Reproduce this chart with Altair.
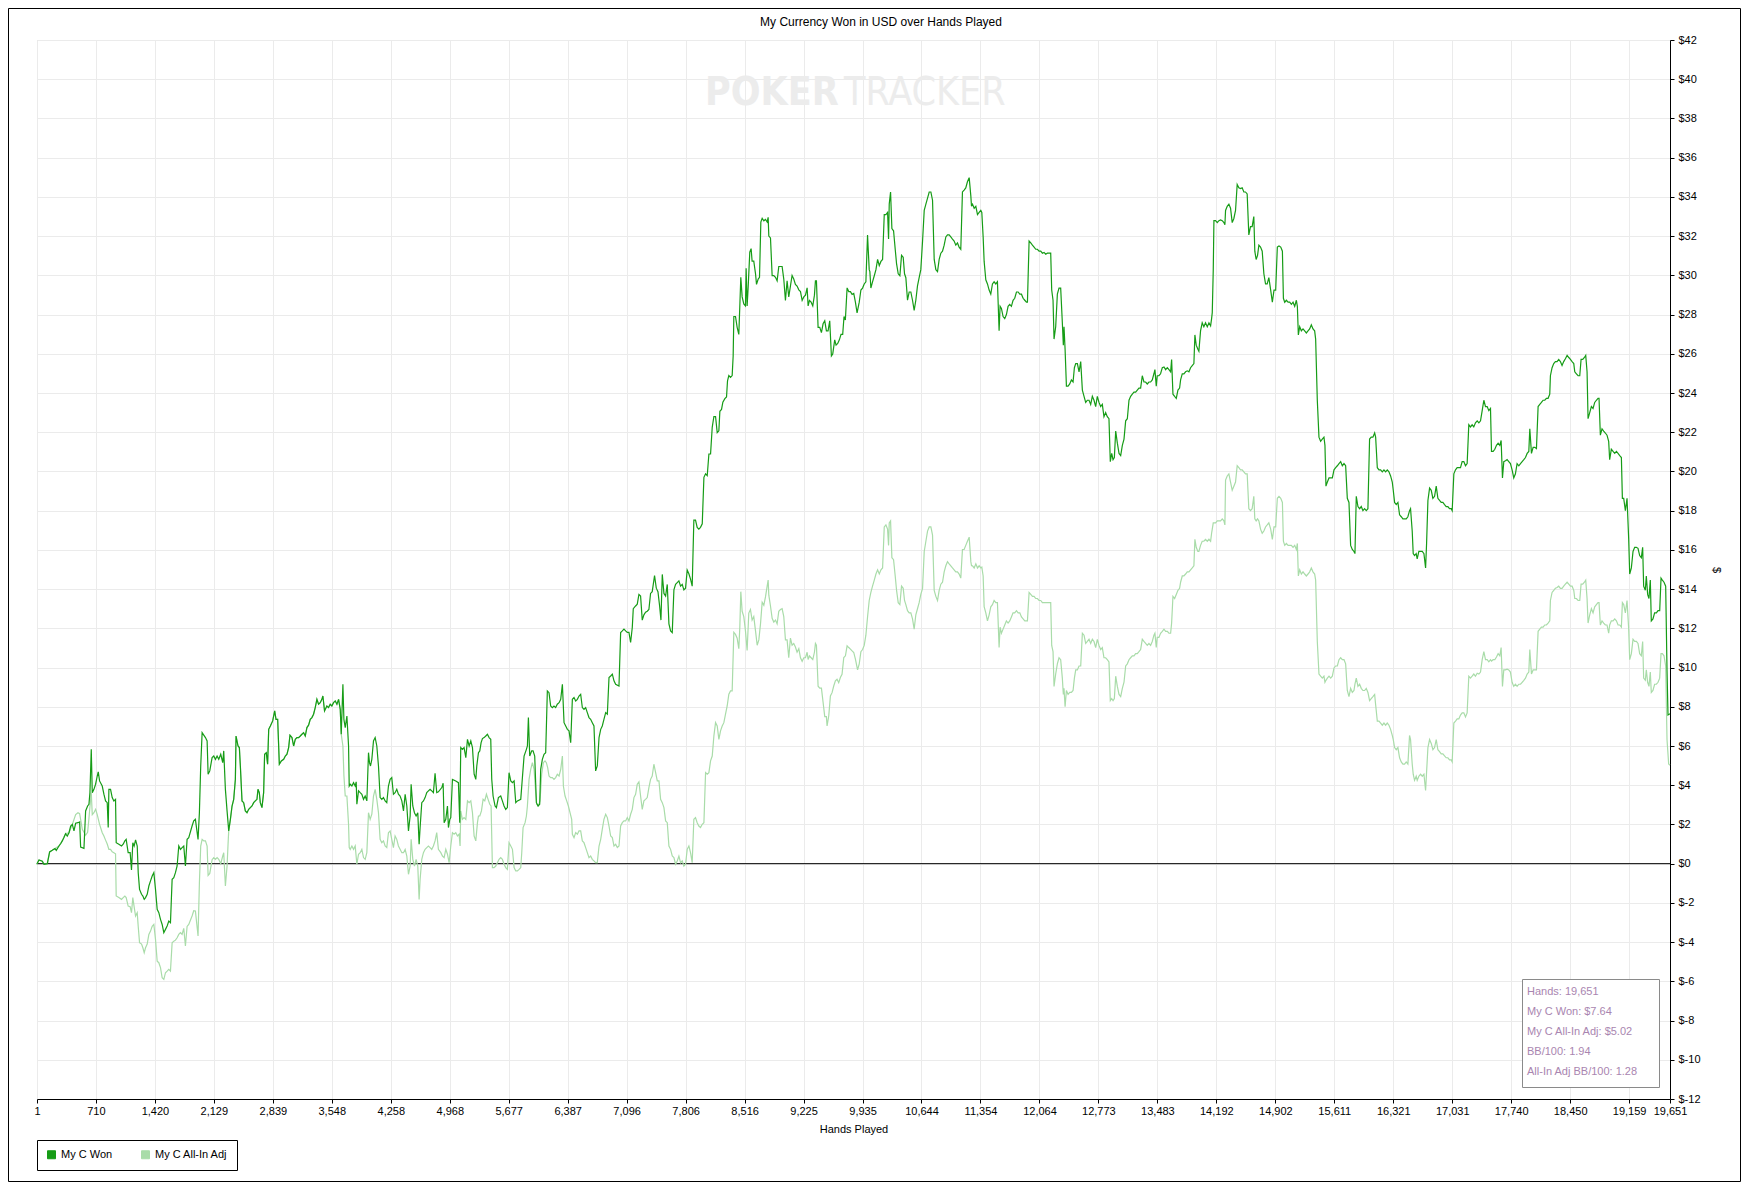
import altair as alt
import pandas as pd

# ---------------- data ----------------
series_names = ["My C Won", "My C All-In Adj"]
series_colors = ["#169c16", "#a9dca9"]

title_text = "My Currency Won in USD over Hands Played"

x_tick_values = [1, 710, 1420, 2129, 2839, 3548, 4258, 4968, 5677, 6387, 7096, 7806,
                 8516, 9225, 9935, 10644, 11354, 12064, 12773, 13483, 14192, 14902,
                 15611, 16321, 17031, 17740, 18450, 19159, 19651]
y_tick_values = [-12, -10, -8, -6, -4, -2, 0, 2, 4, 6, 8, 10, 12, 14, 16, 18, 20, 22,
                 24, 26, 28, 30, 32, 34, 36, 38, 40, 42]

info_lines = ["Hands: 19,651", "My C Won: $7.64", "My C All-In Adj: $5.02",
              "BB/100: 1.94", "All-In Adj BB/100: 1.28"]

# (hand, dollars) for "My C Won"
dark_points = [
(1,0),(25,0.19),(65,0.12),(85,-0.03),(125,0),(153,0.6),(185,0.68),(217,0.77),(233,0.68),(265,0.9),
(289,1.04),(305,1.16),(325,1.33),(345,1.53),(365,1.41),(386,1.58),(406,1.92),(426,2.0),(446,1.67),
(466,2.06),(494,2.09),(514,2.13),(526,0.85),(566,0.78),(586,2.69),(610,2.94),(626,3.03),(638,3.62),
(654,5.83),(666,3.62),(686,3.79),(706,4.05),(726,4.47),(738,4.68),(754,4.22),(786,3.96),(806,3.54),
(826,3.2),(846,3.11),(858,1.84),(866,3.79),(886,3.79),(906,3.37),(926,3.2),(946,3.28),(954,1.07),
(986,0.99),(1018,0.9),(1038,0.99),(1058,1.16),(1074,1.24),(1098,0.56),(1122,0.56),(1138,-0.32),
(1154,1.07),(1170,0.9),(1187,1.21),(1207,0.9),(1219,-0.46),(1235,-1.31),(1259,-1.56),(1275,-1.65),
(1291,-1.82),(1307,-1.73),(1327,-1.56),(1347,-1.14),(1367,-0.88),(1387,-0.63),(1407,-0.46),
(1427,-1.31),(1447,-2.33),(1467,-2.5),(1487,-2.84),(1507,-3.1),(1527,-3.52),(1547,-3.35),
(1567,-3.18),(1587,-2.93),(1607,-3.01),(1627,-0.8),(1647,-0.71),(1667,-0.46),(1687,-0.12),
(1707,0.9),(1727,0.73),(1747,0.82),(1767,0.9),(1787,-0.12),(1807,1.24),(1827,1.33),(1867,1.92),
(1887,2.18),(1907,2.26),(1939,1.24),(1955,2.6),(1971,4.98),(1988,6.68),(2028,6.43),(2048,6.26),
(2060,4.56),(2080,4.73),(2108,5.41),(2128,5.49),(2148,5.32),(2168,5.49),(2188,5.32),(2212,5.58),
(2236,5.15),(2248,5.75),(2268,3.79),(2288,2.69),(2308,1.67),(2328,2.26),(2348,2.94),(2368,3.28),
(2388,4.3),(2396,6.51),(2420,6.0),(2436,5.92),(2448,4.98),(2468,3.2),(2488,3.11),(2508,2.69),
(2528,2.6),(2548,2.77),(2568,2.86),(2588,2.94),(2608,3.11),(2628,3.2),(2648,3.28),(2660,3.79),
(2676,3.62),(2688,3.11),(2708,2.86),(2728,3.62),(2740,5.58),(2760,5.66),(2776,5.07),(2789,6.85),
(2809,7.02),(2837,7.28),(2861,7.79),(2877,7.36),(2897,7.36),(2917,5.07),(2941,5.24),(2969,5.32),
(2989,5.49),(3009,5.58),(3029,5.92),(3045,6.55),(3069,6.43),(3089,6.0),(3109,6.34),(3129,6.43),
(3149,6.43),(3169,6.51),(3189,6.6),(3209,6.68),(3229,6.51),(3249,6.94),(3269,7.06),(3289,7.36),
(3309,7.45),(3329,7.62),(3349,7.96),(3369,8.38),(3389,8.13),(3409,8.21),(3429,8.38),(3441,8.55),
(3461,7.79),(3489,8.04),(3509,7.96),(3529,8.13),(3549,8.04),(3569,8.21),(3590,8.3),(3610,8.13),
(3630,8.38),(3650,7.87),(3662,6.6),(3682,9.15),(3694,7.36),(3710,6.94),(3730,7.53),(3750,6.0),
(3758,3.96),(3770,4.05),(3790,3.96),(3810,4.13),(3830,3.96),(3842,4.17),(3850,3.03),(3870,3.71),
(3890,3.62),(3910,3.54),(3930,3.28),(3950,3.45),(3970,3.2),(3990,5.66),(4002,5.15),(4014,4.98),
(4030,5.32),(4050,6.26),(4070,6.43),(4090,6.0),(4110,4.98),(4130,3.37),(4150,3.28),(4170,3.37),
(4190,3.2),(4210,3.11),(4230,3.96),(4250,4.3),(4270,4.39),(4290,3.54),(4310,3.62),(4330,3.79),
(4350,3.54),(4370,3.45),(4391,3.2),(4411,2.69),(4431,3.54),(4451,2.94),(4471,1.67),(4491,2.43),
(4503,4.05),(4523,2.94),(4543,2.6),(4563,2.43),(4583,2.6),(4599,0.99),(4611,1.84),(4631,3.11),
(4651,3.2),(4671,3.37),(4691,3.62),(4711,3.71),(4731,3.79),(4751,3.71),(4771,3.62),(4791,4.61),
(4811,3.62),(4831,3.66),(4872,3.88),(4888,4.1),(4900,2.09),(4920,2.26),(4940,2.94),(4952,1.84),
(4968,2.26),(4980,2.35),(5000,4.3),(5040,4.22),(5072,4.13),(5088,2.09),(5100,5.92),(5120,5.83),
(5140,5.92),(5161,5.41),(5181,6.34),(5201,6.0),(5221,6.26),(5241,5.92),(5261,4.56),(5281,4.3),
(5293,4.98),(5313,5.66),(5329,5.75),(5345,6.17),(5361,6.38),(5381,6.43),(5401,6.51),(5421,6.6),
(5441,6.43),(5461,6.34),(5473,4.3),(5489,3.45),(5513,2.94),(5529,2.86),(5553,3.37),(5581,3.45),
(5601,3.2),(5621,2.94),(5641,2.77),(5661,2.86),(5681,4.64),(5702,4.22),(5722,4.13),(5742,4.22),
(5762,3.11),(5782,3.2),(5822,3.28),(5842,4.39),(5862,5.49),(5890,5.83),(5902,6.0),(5914,7.45),
(5930,5.49),(5954,5.75),(5970,5.75),(5990,5.49),(6010,3.11),(6030,2.94),(6050,3.03),(6062,4.81),
(6082,5.32),(6102,5.58),(6122,5.66),(6142,8.81),(6162,8.72),(6182,8.04),(6202,7.96),(6222,8.04),
(6242,7.96),(6262,8.13),(6283,8.21),(6303,8.38),(6323,9.15),(6343,7.19),(6363,7.02),(6383,6.85),
(6403,6.77),(6423,6.17),(6443,8.38),(6463,8.47),(6483,8.3),(6503,8.38),(6523,8.55),(6543,8.64),
(6563,7.96),(6583,7.87),(6603,7.96),(6623,7.7),(6643,7.45),(6663,7.36),(6683,7.19),(6703,7.02),
(6723,4.73),(6743,4.98),(6764,6.43),(6784,6.85),(6803,7.02),(6823,7.36),(6844,7.7),(6864,7.62),
(6884,9.49),(6904,9.57),(6924,9.66),(6944,9.32),(6964,9.15),(7004,9.06),(7024,11.79),(7044,11.87),
(7064,11.96),(7084,11.87),(7104,11.79),(7124,11.79),(7144,11.28),(7164,12.04),(7176,13.0),
(7204,13.14),(7224,13.23),(7244,13.73),(7264,13.65),(7284,12.42),(7304,12.69),(7324,12.82),
(7344,12.87),(7364,12.96),(7384,13.78),(7404,13.87),(7432,14.69),(7453,14.05),(7473,13.87),
(7493,13.14),(7509,12.42),(7525,14.75),(7545,13.78),(7565,13.65),(7585,14.24),(7605,12.23),
(7625,11.87),(7645,11.78),(7665,13.96),(7685,14.24),(7705,14.33),(7725,14.42),(7745,14.15),
(7765,14.24),(7785,13.96),(7805,14.05),(7825,14.97),(7845,14.78),(7865,14.51),(7885,14.15),
(7905,17.52),(7925,17.52),(7945,17.15),(7965,17.06),(7985,17.15),(8006,17.33),(8026,19.7),
(8046,19.88),(8066,19.79),(8086,20.89),(8106,20.89),(8126,22.25),(8146,22.8),(8166,22.8),
(8186,21.98),(8206,22.07),(8218,23.07),(8238,23.16),(8254,23.53),(8278,23.71),(8298,23.8),
(8310,24.62),(8326,24.89),(8346,24.8),(8366,24.89),(8378,25.89),(8386,27.9),(8406,27.9),
(8426,27.35),(8446,26.99),(8458,28.44),(8470,29.9),(8486,28.9),(8506,28.54),(8526,28.44),
(8534,30.36),(8546,28.44),(8558,29.36),(8578,31.18),(8594,31.36),(8606,30.72),(8626,30.72),
(8647,30.08),(8659,29.54),(8679,29.81),(8695,29.9),(8711,32.72),(8727,32.91),(8747,32.78),
(8767,32.85),(8787,32.72),(8799,32.96),(8807,32.0),(8827,31.91),(8847,29.99),(8867,29.99),
(8887,29.9),(8907,29.72),(8927,30.45),(8947,30.45),(8967,30.45),(8987,29.81),(9007,28.72),
(9027,29.72),(9047,28.9),(9067,29.45),(9087,29.99),(9107,29.81),(9127,29.54),(9147,29.45),
(9168,29.26),(9188,29.17),(9208,28.72),(9228,28.9),(9248,28.99),(9268,29.36),(9280,28.44),
(9296,28.72),(9316,28.63),(9336,28.44),(9356,28.99),(9368,29.72),(9380,29.72),(9400,27.35),
(9420,27.35),(9440,27.08),(9460,27.53),(9480,27.68),(9500,27.17),(9520,27.17),(9540,27.68),
(9560,25.89),(9576,25.99),(9600,26.71),(9616,26.44),(9636,26.53),(9656,26.71),(9676,26.99),
(9696,26.99),(9712,27.9),(9728,27.72),(9749,29.36),(9769,29.17),(9789,29.17),(9809,29.03),
(9829,29.08),(9849,28.63),(9869,28.08),(9895,28.63),(9915,29.25),(9935,29.35),(9955,29.56),
(9975,29.67),(9995,32.06),(10015,30.29),(10023,30.19),(10035,29.35),(10055,29.67),(10076,29.98),
(10096,30.29),(10116,30.81),(10136,30.5),(10156,30.71),(10176,30.81),(10196,33.1),(10216,33.1),
(10236,33.21),(10248,31.85),(10256,33.63),(10272,34.25),(10288,32.38),(10308,32.27),(10328,31.33),
(10344,30.6),(10364,30.08),(10384,29.98),(10404,31.02),(10424,30.92),(10440,30.08),(10456,29.88),
(10476,28.73),(10496,29.15),(10516,29.15),(10536,28.73),(10556,28.21),(10576,28.73),(10596,29.46),
(10616,29.88),(10636,30.29),(10657,31.75),(10677,33.31),(10697,33.63),(10717,33.94),(10737,34.25),
(10757,34.25),(10777,33.83),(10797,30.81),(10817,30.29),(10837,30.19),(10857,30.81),(10877,31.13),
(10897,31.23),(10917,31.54),(10937,31.96),(10957,32.06),(10977,32.06),(10997,31.96),(11017,31.85),
(11037,31.75),(11057,31.54),(11077,31.65),(11097,31.44),(11117,31.33),(11137,34.25),(11157,34.35),
(11177,34.46),(11197,34.77),(11218,34.98),(11238,34.04),(11246,33.52),(11258,33.63),(11278,33.42),
(11298,33.52),(11318,33.1),(11338,33.21),(11358,33.31),(11370,33.21),(11386,31.96),(11398,30.71),
(11418,29.77),(11438,29.56),(11458,29.25),(11478,29.04),(11498,29.56),(11518,29.67),(11538,29.56),
(11558,29.67),(11578,27.17),(11590,28.42),(11606,28.31),(11626,27.9),(11646,27.79),(11666,28.0),
(11686,28.42),(11706,28.52),(11726,28.42),(11746,28.73),(11766,28.83),(11787,29.15),(11807,29.15),
(11827,29.04),(11847,29.04),(11867,28.83),(11887,28.73),(11907,28.63),(11919,28.63),(11939,31.75),
(11959,31.65),(11979,31.54),(11999,31.44),(12019,31.33),(12039,31.33),(12059,31.23),(12079,31.23),
(12099,31.13),(12119,31.17),(12139,31.08),(12159,31.13),(12179,31.13),(12199,31.13),(12211,29.25),
(12227,28.73),(12239,26.75),(12259,27.38),(12279,29.04),(12299,29.35),(12319,29.35),(12339,27.58),
(12351,26.44),(12359,27.38),(12372,26.23),(12388,24.35),(12408,24.35),(12428,24.46),(12448,24.67),
(12468,24.56),(12484,25.29),(12500,25.5),(12520,25.5),(12540,25.08),(12560,25.6),(12580,24.15),
(12600,23.83),(12620,23.52),(12640,23.63),(12660,23.63),(12680,23.42),(12700,23.83),(12720,23.63),
(12740,23.31),(12760,23.83),(12780,23.52),(12800,23.31),(12820,23.42),(12840,22.79),(12860,23.0),
(12880,22.79),(12900,22.69),(12916,20.5),(12933,20.92),(12949,20.6),(12965,20.71),(12981,22.06),
(13001,21.44),(13021,20.92),(13041,20.81),(13061,21.33),(13081,21.65),(13101,22.58),(13121,22.69),
(13141,23.63),(13161,23.83),(13181,23.94),(13201,24.04),(13221,24.04),(13241,24.15),(13261,24.25),
(13281,24.25),(13301,24.88),(13321,24.56),(13341,24.56),(13361,24.46),(13381,24.56),(13401,24.56),
(13421,24.67),(13441,24.98),(13453,25.19),(13469,24.35),(13481,24.88),(13501,24.88),(13521,24.98),
(13542,25.29),(13562,25.33),(13582,25.19),(13602,25.29),(13622,25.19),(13642,25.08),(13654,25.71),
(13670,23.94),(13690,23.83),(13710,23.73),(13730,24.15),(13750,24.25),(13762,24.67),(13782,24.98),
(13802,24.98),(13822,25.08),(13842,25.13),(13862,25.08),(13882,25.29),(13902,25.4),(13922,25.5),
(13934,26.96),(13950,26.44),(13970,26.23),(13982,26.13),(14002,27.17),(14022,27.58),(14042,27.38),
(14062,27.58),(14083,27.38),(14103,27.58),(14123,27.42),(14135,27.79),(14143,28.1),(14155,30.29),
(14163,32.79),(14183,32.79),(14203,32.69),(14223,32.79),(14243,32.83),(14263,32.79),(14283,32.69),
(14295,32.58),(14303,33.31),(14323,33.52),(14343,33.63),(14363,33.42),(14383,32.69),(14403,32.9),
(14423,33.31),(14443,34.63),(14463,34.46),(14483,34.42),(14503,34.46),(14523,34.25),(14543,34.25),
(14563,34.15),(14583,32.06),(14603,32.48),(14623,32.48),(14643,33.0),(14655,31.23),(14671,30.81),
(14688,31.02),(14704,31.54),(14724,31.44),(14744,31.23),(14764,30.08),(14784,29.56),(14804,29.56),
(14824,29.88),(14846,29.25),(14866,28.63),(14886,29.25),(14906,29.25),(14926,31.44),(14946,31.5),
(14967,31.44),(14987,31.23),(14999,28.83),(15015,28.63),(15035,28.73),(15055,28.63),(15075,28.63),
(15095,28.52),(15115,28.63),(15135,28.42),(15155,28.73),(15167,28.42),(15179,26.96),(15195,27.38),
(15215,27.17),(15235,27.27),(15255,27.17),(15275,27.06),(15295,27.17),(15315,27.27),(15335,27.48),
(15355,27.27),(15375,27.17),(15387,26.75),(15407,23.63),(15427,21.75),(15447,21.54),(15467,21.65),
(15487,21.75),(15499,21.33),(15511,19.25),(15528,19.46),(15548,19.67),(15568,19.67),(15588,19.67),
(15608,20.08),(15628,20.19),(15648,20.29),(15668,20.4),(15688,20.5),(15708,20.29),(15728,20.4),
(15748,20.29),(15768,18.63),(15788,18.42),(15808,16.23),(15828,16.02),(15848,15.92),(15860,15.81),
(15876,18.73),(15896,18.21),(15916,18.1),(15936,18.21),(15956,18.0),(15976,18.1),(15996,18.0),
(16016,18.1),(16036,21.65),(16056,21.75),(16076,21.75),(16097,21.96),(16109,21.75),(16129,20.19),
(16149,20.08),(16169,20.08),(16189,19.98),(16209,20.08),(16229,19.98),(16249,20.08),(16269,19.98),
(16289,19.77),(16309,19.46),(16321,19.04),(16337,18.42),(16357,18.31),(16377,18.42),(16397,17.79),
(16417,17.69),(16437,17.58),(16457,17.58),(16477,17.58),(16497,17.69),(16517,18.0),(16529,18.1),
(16549,16.96),(16561,15.81),(16577,15.71),(16597,15.81),(16609,15.54),(16629,15.92),(16650,15.92),
(16670,15.92),(16690,15.81),(16710,15.08),(16722,16.33),(16738,18.52),(16758,19.15),(16778,19.04),
(16798,18.63),(16818,18.73),(16838,19.25),(16858,18.63),(16878,18.52),(16898,18.42),(16918,18.42),
(16938,18.31),(16958,18.21),(16978,18.21),(16998,18.1),(17018,18.1),(17030,18.0),(17050,19.88),
(17070,20.08),(17090,20.19),(17110,20.19),(17130,20.19),(17150,20.5),(17170,20.5),(17190,20.29),
(17210,20.4),(17230,22.38),(17250,22.27),(17270,22.38),(17290,22.27),(17310,22.48),(17331,22.58),
(17351,22.48),(17371,22.58),(17391,23.1),(17411,23.63),(17431,23.31),(17451,23.31),(17471,23.1),
(17491,23.21),(17503,21.02),(17523,21.02),(17543,21.13),(17563,21.33),(17583,21.44),(17603,21.33),
(17619,21.58),(17635,19.67),(17651,20.5),(17671,20.54),(17691,20.6),(17711,20.5),(17731,20.4),
(17751,20.08),(17771,19.67),(17791,19.88),(17811,20.4),(17832,20.29),(17852,20.4),(17872,20.5),
(17892,20.6),(17912,20.71),(17932,20.92),(17952,21.02),(17964,22.17),(17984,20.92),(18004,21.23),
(18024,21.23),(18044,21.17),(18064,23.31),(18084,23.42),(18104,23.52),(18124,23.63),(18144,23.63),
(18164,23.73),(18184,23.73),(18204,23.94),(18212,24.88),(18232,25.29),(18252,25.5),(18272,25.6),
(18292,25.6),(18312,25.71),(18332,25.6),(18352,25.4),(18372,25.6),(18392,25.75),(18413,25.92),
(18433,25.81),(18453,25.71),(18473,25.6),(18493,25.5),(18505,25.08),(18525,24.98),(18545,24.88),
(18565,24.88),(18581,25.71),(18601,25.71),(18621,25.81),(18637,25.92),(18653,25.08),(18665,22.69),
(18685,23.0),(18705,23.31),(18725,23.21),(18745,23.52),(18765,23.63),(18785,23.73),(18797,23.73),
(18813,21.85),(18833,22.17),(18853,22.06),(18873,21.96),(18893,21.85),(18913,21.54),(18925,20.6),
(18945,21.13),(18966,21.02),(18986,20.92),(19006,21.02),(19026,20.92),(19046,20.81),(19066,20.71),
(19078,18.63),(19094,18.63),(19114,18.0),(19134,18.63),(19154,16.54),(19166,14.77),(19186,15.08),
(19206,15.92),(19226,16.13),(19246,16.13),(19266,16.08),(19286,15.71),(19306,15.6),(19322,16.13),
(19334,14.15),(19354,13.94),(19366,14.67),(19382,13.73),(19398,13.52),(19414,14.46),(19426,12.38),
(19446,12.48),(19466,12.79),(19487,12.79),(19507,12.9),(19527,12.9),(19543,14.56),(19559,14.46),
(19579,14.35),(19599,14.15),(19615,9.88),(19627,7.58),(19651,7.64),
]

# (hand, dollars) for "My C All-In Adj"
light_points = [
(1,0),(25,0.19),(65,0.12),(85,-0.03),(125,0),(153,0.6),(185,0.68),(217,0.77),(265,0.9),(305,1.16),
(345,1.53),(386,1.58),(426,2.0),(466,2.5),(494,2.6),(514,2.55),(526,2.26),(546,1.75),(566,1.6),
(586,1.45),(610,1.6),(626,2.3),(638,2.9),(654,3.62),(666,2.5),(686,2.6),(706,2.77),(726,2.5),
(754,2.0),(786,1.58),(806,1.41),(826,1.2),(846,1.0),(866,0.73),(886,0.73),(906,0.6),(926,0.56),
(946,0.5),(954,-1.65),(986,-1.73),(1018,-1.82),(1038,-1.73),(1058,-1.65),(1074,-1.73),(1098,-2.16),
(1122,-2.2),(1138,-2.5),(1154,-1.73),(1170,-2.2),(1187,-2.67),(1207,-2.5),(1219,-3.2),(1235,-4.03),
(1259,-4.1),(1275,-4.29),(1291,-4.54),(1307,-4.29),(1327,-4.1),(1347,-3.61),(1367,-3.44),(1387,-3.2),
(1407,-3.1),(1427,-3.86),(1447,-4.97),(1467,-5.05),(1487,-5.3),(1507,-5.82),(1527,-5.9),(1547,-5.56),
(1567,-5.48),(1587,-5.39),(1607,-5.48),(1627,-4.03),(1647,-3.95),(1667,-3.9),(1687,-3.78),
(1707,-3.61),(1727,-3.52),(1747,-3.6),(1767,-3.3),(1787,-4.2),(1807,-3.2),(1827,-3.1),(1867,-2.67),
(1887,-2.4),(1907,-2.41),(1939,-3.69),(1955,-1.0),(1971,0.9),(1988,1.24),(2008,1.16),(2028,1.16),
(2048,0.9),(2060,-0.6),(2080,-0.5),(2108,0.2),(2128,0.31),(2148,0.22),(2168,0.31),(2188,0.22),
(2212,0.0),(2236,0.39),(2248,0.56),(2268,-1.14),(2288,-0.12),(2300,1.0),(2308,1.67),
(2328,2.26),(2348,2.94),(2368,3.28),(2388,4.3),(2396,6.51),(2420,6.0),(2436,5.92),(2448,4.98),
(2468,3.2),(2488,3.11),(2508,2.69),(2528,2.6),(2548,2.77),(2568,2.86),(2588,2.94),(2608,3.11),
(2628,3.2),(2648,3.28),(2660,3.79),(2676,3.62),(2688,3.11),(2708,2.86),(2728,3.62),(2740,5.58),
(2760,5.66),(2776,5.07),(2789,6.85),(2809,7.02),(2837,7.28),(2861,7.79),(2877,7.36),(2897,7.36),
(2917,5.07),(2941,5.24),(2969,5.32),(2989,5.49),(3009,5.58),(3029,5.92),(3045,6.55),(3069,6.43),
(3089,6.0),(3109,6.34),(3129,6.43),(3149,6.43),(3169,6.51),(3189,6.6),(3209,6.68),(3229,6.51),
(3249,6.94),(3269,7.06),(3289,7.36),(3309,7.45),(3329,7.62),(3349,7.96),(3369,8.38),(3389,8.13),
(3409,8.21),(3429,8.38),(3441,8.55),(3461,7.79),(3489,8.04),(3509,7.96),(3529,8.13),(3549,8.04),
(3569,8.21),(3590,8.3),(3610,8.13),(3630,8.38),(3650,7.87),(3662,6.6),
(3682,6.0),(3694,4.5),(3710,3.45),(3730,3.45),(3750,2.0),(3758,0.82),(3770,0.73),(3790,0.9),
(3810,0.73),(3830,0.9),(3850,-0.03),(3870,0.48),(3890,0.56),(3910,0.73),(3930,0.31),(3950,0.22),
(3970,0.56),(3990,2.6),(4010,2.26),(4030,2.52),(4050,3.45),(4070,3.79),(4090,3.28),(4110,2.6),
(4130,1.24),(4150,1.07),(4170,1.16),(4190,0.9),(4210,0.82),(4230,1.58),(4250,1.67),(4270,1.24),
(4290,0.82),(4310,1.41),(4330,1.24),(4350,0.9),(4370,0.73),(4391,0.56),(4411,0.56),(4431,0.73),
(4451,0.39),(4471,-0.54),(4491,-0.12),(4503,1.24),(4523,0.22),(4543,-0.12),(4563,0.22),(4583,-0.12),
(4599,-1.82),(4611,-0.8),(4631,0.22),(4651,0.56),(4671,0.73),(4691,0.82),(4711,0.9),(4731,0.82),
(4751,0.73),(4771,0.9),(4791,1.16),(4811,1.58),(4831,0.73),
(4860,0.56),(4880,0.39),(4900,0.31),(4920,0.73),(4940,0.48),(4960,0.05),(4980,0.9),(5000,1.58),
(5020,1.5),(5040,1.58),(5060,1.41),(5080,1.5),(5092,0.9),(5100,2.69),(5120,2.26),(5140,2.35),
(5161,2.26),(5181,3.2),(5201,3.11),(5221,3.2),(5241,2.6),(5261,1.41),(5281,1.16),(5301,2.09),
(5313,2.43),(5329,2.43),(5349,2.69),(5369,3.28),(5389,3.2),(5409,3.54),(5429,3.28),(5449,3.03),
(5465,2.94),(5481,-0.2),(5501,-0.2),(5521,-0.12),(5561,0.22),(5581,0.31),(5601,0.22),(5621,-0.03),
(5641,-0.2),(5661,-0.29),(5681,1.07),(5702,0.9),(5722,0.73),(5742,-0.2),(5762,-0.37),(5782,-0.37),
(5802,-0.29),(5822,-0.2),(5834,0.56),(5850,1.84),(5874,2.09),(5890,2.43),(5902,2.94),(5922,4.3),
(5942,4.81),(5962,5.15),(5982,4.81),(6002,3.62),(6014,3.03),(6034,2.94),(6054,3.2),(6074,4.56),
(6094,5.15),(6114,5.24),(6130,5.15),(6146,4.9),(6162,4.47),(6182,4.39),(6202,4.39),(6222,4.3),
(6242,4.39),(6262,4.56),(6283,4.47),(6303,4.81),(6323,5.49),(6335,3.96),(6355,3.45),(6375,3.2),
(6395,2.94),(6415,2.6),(6435,2.26),(6443,1.5),(6463,1.33),(6483,1.58),(6503,1.5),(6523,1.67),
(6543,1.67),(6563,1.16),(6583,1.07),(6603,0.82),(6623,0.56),(6643,0.31),(6663,0.39),(6683,0.22),
(6703,0.14),(6723,0.05),(6743,0.05),(6764,0.9),(6784,1.24),(6803,1.75),(6823,2.26),(6844,2.52),
(6864,2.35),(6884,1.92),(6904,1.41),(6924,1.33),(6944,0.9),(6964,0.99),(6984,0.82),(7004,0.9),
(7024,1.92),(7044,2.09),(7064,2.18),(7084,2.18),(7104,2.35),(7124,2.18),(7144,2.52),(7164,2.77),
(7184,3.37),(7204,3.54),(7224,4.05),(7244,4.17),(7264,3.45),(7284,2.77),(7304,3.2),(7324,3.28),
(7344,3.37),(7364,3.88),(7384,4.3),(7404,4.47),(7424,5.07),(7445,4.64),(7465,4.22),(7485,4.22),
(7505,3.28),(7525,3.11),(7545,2.86),(7565,2.18),(7585,2.09),(7605,0.9),(7625,0.73),(7645,0.39),
(7665,0.31),(7685,-0.03),(7705,0.14),(7725,0.39),(7745,0.05),(7765,0.14),(7785,-0.12),(7805,-0.03),
(7825,0.73),(7845,0.9),(7865,0.56),(7885,0.05),(7905,2.26),(7925,2.35),(7945,2.09),(7965,1.92),
(7985,1.84),(8006,2.01),(8026,2.09),(8046,4.64),(8066,4.56),(8086,4.64),(8106,5.24),(8126,5.49),
(8146,6.51),(8166,7.19),(8186,7.02),(8206,6.34),(8226,6.77),(8246,7.02),(8266,7.19),(8286,7.62),
(8306,8.04),(8326,8.64),(8346,8.81),(8366,8.81),(8386,11.79),(8406,11.69),(8426,11.5),(8446,10.96),
(8458,12.05),(8470,13.87),(8486,12.87),(8506,12.6),(8526,11.87),(8546,10.87),(8566,12.78),
(8586,12.96),(8606,12.42),(8626,12.6),(8647,11.87),(8667,11.14),(8687,11.41),(8707,12.23),
(8727,13.33),(8747,13.18),(8767,13.6),(8787,14.15),(8799,14.46),(8807,13.69),(8827,13.14),
(8847,12.51),(8867,12.32),(8887,12.42),(8907,12.23),(8927,12.87),(8947,12.96),(8967,13.0),
(8987,12.6),(9007,11.41),(9027,11.41),(9047,10.5),(9067,11.5),(9087,11.14),(9107,11.23),
(9127,11.05),(9147,10.78),(9168,10.96),(9188,10.5),(9208,10.32),(9228,10.5),(9248,10.5),
(9268,10.78),(9280,10.41),(9296,10.59),(9316,10.5),(9336,10.41),(9356,10.78),(9368,11.23),
(9380,11.14),(9400,9.05),(9420,8.95),(9440,8.95),(9460,8.23),(9480,7.5),(9500,7.5),(9508,7.02),
(9528,7.53),(9548,8.55),(9568,8.72),(9588,9.06),(9608,9.32),(9628,9.4),(9648,9.23),(9668,9.49),
(9688,9.66),(9709,10.51),(9729,10.6),(9749,11.11),(9769,11.02),(9789,10.94),(9809,10.85),
(9829,10.77),(9849,10.43),(9875,9.88),(9895,10.19),(9915,10.81),(9935,10.92),(9955,11.13),
(9975,11.65),(9995,12.58),(10015,13.42),(10035,13.83),(10055,14.15),(10076,14.46),(10096,14.77),
(10116,14.98),(10136,14.77),(10156,14.98),(10176,15.08),(10196,17.17),(10216,17.27),(10236,17.06),
(10248,16.23),(10256,17.38),(10272,17.48),(10288,15.6),(10308,15.5),(10328,14.67),(10344,13.94),
(10364,13.31),(10384,13.21),(10404,14.15),(10424,14.04),(10440,13.42),(10456,13.21),(10476,12.9),
(10496,12.79),(10516,12.79),(10536,12.48),(10556,11.96),(10576,12.69),(10596,13.0),(10616,13.31),
(10636,13.73),(10657,14.04),(10677,15.92),(10697,16.44),(10717,16.96),(10737,17.17),(10757,17.17),
(10777,16.75),(10797,13.94),(10817,13.63),(10837,13.42),(10857,13.94),(10877,14.25),(10897,14.35),
(10917,14.88),(10937,15.19),(10957,15.4),(10977,15.29),(10997,15.19),(11017,15.08),(11037,14.98),
(11057,14.88),(11077,14.88),(11097,14.77),(11117,14.56),(11137,16.02),(11157,16.02),(11177,16.23),
(11197,16.44),(11218,16.65),(11238,15.4),(11246,15.19),(11258,15.19),(11278,15.08),(11298,15.29),
(11318,15.08),(11338,15.19),(11358,15.08),(11370,15.12),(11386,14.67),(11398,13.1),(11418,12.79),
(11438,12.38),(11458,12.69),(11478,13.1),(11498,13.21),(11518,13.42),(11538,13.31),(11558,13.31),
(11578,11.02),(11590,12.06),(11606,11.75),(11626,11.96),(11646,12.17),(11666,12.38),(11686,12.27),
(11706,12.38),(11726,12.58),(11746,12.79),(11766,12.79),(11787,12.9),(11807,12.79),(11827,12.79),
(11847,12.58),(11867,12.48),(11887,12.38),(11907,12.38),(11919,12.38),(11939,13.83),(11959,13.73),
(11979,13.63),(11999,13.63),(12019,13.52),(12039,13.52),(12059,13.42),(12079,13.42),(12099,13.31),
(12119,13.31),(12139,13.31),(12159,13.31),(12179,13.31),(12199,13.31),(12211,11.13),(12227,10.81),
(12239,9.04),(12259,9.67),(12279,10.19),(12299,10.5),(12319,10.4),(12339,9.46),(12351,8.63),
(12359,8.94),(12372,8.0),(12388,8.83),(12408,8.63),(12428,8.73),(12448,8.73),(12468,8.83),
(12484,9.46),(12500,9.88),(12520,9.88),(12540,10.08),(12560,10.08),(12580,11.75),(12600,11.65),
(12620,11.23),(12640,11.33),(12660,11.44),(12680,11.23),(12700,11.44),(12720,11.33),(12740,11.02),
(12760,11.44),(12780,11.13),(12800,10.92),(12820,11.02),(12840,10.5),(12860,10.5),(12880,10.4),
(12900,10.29),(12916,8.31),(12933,8.42),(12949,8.31),(12965,8.42),(12981,9.56),(13001,9.04),
(13021,8.63),(13041,8.52),(13061,8.94),(13081,9.25),(13101,10.08),(13121,10.19),(13141,10.4),
(13161,10.5),(13181,10.6),(13201,10.6),(13221,10.71),(13241,10.71),(13261,10.81),(13281,10.92),
(13301,11.44),(13321,11.33),(13341,11.23),(13361,11.13),(13381,11.23),(13401,11.13),(13421,11.33),
(13441,11.65),(13453,11.75),(13469,11.02),(13481,11.54),(13501,11.54),(13521,11.75),(13542,11.85),
(13562,11.96),(13582,11.85),(13602,11.85),(13622,11.75),(13642,11.75),(13654,12.27),(13670,13.63),
(13690,13.52),(13710,13.73),(13730,13.94),(13750,14.04),(13762,14.35),(13782,14.67),(13802,14.67),
(13822,14.77),(13842,14.88),(13862,14.88),(13882,14.98),(13902,15.08),(13922,15.19),(13934,16.54),
(13950,16.13),(13970,15.92),(13982,15.92),(14002,16.23),(14022,16.44),(14042,16.44),(14062,16.54),
(14083,16.44),(14103,16.54),(14123,16.44),(14135,16.85),(14143,17.06),(14155,17.38),(14163,17.38),
(14183,17.38),(14203,17.48),(14223,17.48),(14243,17.48),(14263,17.58),(14283,17.48),(14295,17.27),
(14303,19.56),(14323,19.77),(14343,19.88),(14363,19.46),(14383,19.04),(14403,19.25),(14423,19.46),
(14443,20.29),(14463,20.19),(14483,20.08),(14503,20.08),(14523,19.98),(14543,19.88),(14563,19.88),
(14583,18.1),(14603,18.0),(14623,18.1),(14643,18.73),(14655,17.58),(14671,17.48),(14688,17.58),
(14704,17.48),(14724,17.06),(14744,16.85),(14764,16.96),(14784,17.17),(14804,17.27),(14824,17.38),
(14846,17.06),(14866,16.54),(14886,17.17),(14906,17.17),(14926,18.63),(14946,18.73),(14967,18.63),
(14987,18.42),(14999,16.44),(15015,16.23),(15035,16.33),(15055,16.23),(15075,16.23),(15095,16.23),
(15115,16.13),(15135,16.23),(15155,16.02),(15167,16.33),(15179,14.67),(15195,14.98),(15215,14.77),
(15235,14.88),(15255,14.77),(15275,14.67),(15295,14.77),(15315,14.88),(15335,15.08),(15355,14.88),
(15375,14.77),(15387,14.46),(15407,11.33),(15427,9.67),(15447,9.56),(15467,9.46),(15487,9.56),
(15499,9.25),(15511,9.35),(15528,9.46),(15548,9.56),(15568,9.46),(15588,9.56),(15608,9.98),
(15628,10.08),(15648,10.08),(15668,10.4),(15688,10.5),(15708,10.4),(15728,10.4),(15748,10.19),
(15768,8.83),(15788,8.52),(15808,8.94),(15828,8.73),(15848,8.83),(15860,9.15),(15876,9.46),
(15896,9.04),(15916,9.15),(15936,8.94),(15956,8.83),(15976,8.83),(15996,8.94),(16016,8.73),
(16036,8.31),(16056,8.42),(16076,8.52),(16097,8.63),(16109,8.1),(16129,7.27),(16149,7.27),
(16169,7.17),(16189,7.06),(16209,7.17),(16229,7.06),(16249,7.17),(16269,7.06),(16289,6.85),
(16309,6.54),(16321,6.33),(16337,5.92),(16357,5.81),(16377,5.92),(16397,5.4),(16417,5.19),
(16437,5.08),(16457,5.08),(16477,5.19),(16497,5.08),(16517,6.54),(16529,6.33),(16549,5.08),
(16561,4.56),(16577,4.25),(16597,4.46),(16609,4.25),(16629,4.46),(16650,4.56),(16670,4.46),
(16690,4.56),(16710,3.73),(16722,4.67),(16738,5.92),(16758,6.33),(16778,6.13),(16798,5.81),
(16818,5.92),(16838,6.33),(16858,5.81),(16878,5.71),(16898,5.6),(16918,5.6),(16938,5.5),
(16958,5.4),(16978,5.4),(16998,5.29),(17018,5.29),(17030,5.19),(17050,7.17),(17070,7.27),
(17090,7.38),(17110,7.38),(17130,7.58),(17150,7.69),(17170,7.69),(17190,7.48),(17210,7.69),
(17230,9.56),(17250,9.46),(17270,9.56),(17290,9.67),(17310,9.56),(17331,9.71),(17351,9.67),
(17371,9.77),(17391,10.4),(17411,10.81),(17431,10.4),(17451,10.4),(17471,10.29),(17491,10.4),
(17503,10.33),(17523,10.4),(17543,10.4),(17563,10.54),(17583,10.71),(17603,10.6),(17619,11.02),
(17635,9.04),(17651,9.88),(17671,9.88),(17691,9.92),(17711,9.88),(17731,9.77),(17751,9.25),
(17771,9.04),(17791,9.15),(17811,9.04),(17832,9.15),(17852,9.15),(17872,9.25),(17892,9.35),
(17912,9.46),(17932,9.67),(17952,9.77),(17964,10.92),(17984,9.67),(18004,9.88),(18024,9.88),
(18044,9.88),(18064,11.85),(18084,11.96),(18104,12.06),(18124,12.06),(18144,12.17),(18164,12.17),
(18184,12.27),(18204,12.38),(18212,13.42),(18232,13.83),(18252,13.94),(18272,14.04),(18292,14.08),
(18312,14.15),(18332,14.04),(18352,14.04),(18372,14.15),(18392,14.25),(18413,14.35),(18433,14.25),
(18453,14.15),(18473,14.15),(18493,13.94),(18505,13.52),(18525,13.52),(18545,13.42),(18565,13.42),
(18581,14.25),(18601,14.25),(18621,14.35),(18637,14.46),(18653,13.52),(18665,12.27),(18685,12.69),
(18705,13.0),(18725,12.79),(18745,13.1),(18765,13.21),(18785,13.31),(18797,13.31),(18813,12.17),
(18833,12.38),(18853,12.27),(18873,12.17),(18893,12.17),(18913,11.75),(18925,12.17),(18945,12.38),
(18966,12.38),(18986,12.48),(19006,12.38),(19026,12.17),(19046,12.17),(19066,12.06),(19078,13.31),
(19094,13.21),(19114,12.79),(19134,13.42),(19154,11.96),(19166,10.4),(19186,10.71),(19206,11.44),
(19226,11.33),(19246,11.33),(19266,11.23),(19286,10.71),(19306,10.6),(19322,11.33),(19334,9.46),
(19354,9.35),(19366,9.88),(19382,9.25),(19398,9.04),(19414,9.77),(19426,8.73),(19446,8.83),
(19466,9.15),(19487,9.15),(19507,9.25),(19527,9.46),(19543,10.71),(19559,10.71),(19579,10.6),
(19599,10.08),(19615,6.33),(19635,5.08),(19651,5.02),
]

# ---------------- build tables ----------------
rows = [{"hand": h, "usd": v, "series": series_names[0], "order": i} for i, (h, v) in enumerate(dark_points)]
dark_df = pd.DataFrame(rows)
rows = [{"hand": h, "usd": v, "series": series_names[1], "order": i} for i, (h, v) in enumerate(light_points)]
light_df = pd.DataFrame(rows)
start_df = pd.DataFrame({"hand": [1, 1], "usd": [0, 0], "series": series_names})
zero_df = pd.DataFrame({"usd": [0]})
one = pd.DataFrame({"k": [0]})

FONT = "Liberation Sans"
W, H = 1633, 1059

x_scale = alt.Scale(domain=[1, 19651], nice=False, zero=False)
y_scale = alt.Scale(domain=[-12, 42], nice=False, zero=False)
color_scale = alt.Scale(domain=series_names, range=series_colors)

x_enc = alt.X("hand:Q", scale=x_scale,
              axis=alt.Axis(values=x_tick_values, format=",d", title="Hands Played",
                            grid=True, gridColor="#ebebeb", gridWidth=1,
                            domainColor="black", tickColor="black", tickSize=4,
                            labelFont=FONT, labelFontSize=11, labelColor="black",
                            labelPadding=2, labelOverlap=False, labelFlush=False,
                            titleFont=FONT, titleFontSize=11, titleFontWeight="normal",
                            titleColor="black", titlePadding=7))
y_enc = alt.Y("usd:Q", scale=y_scale,
              axis=alt.Axis(orient="right", values=y_tick_values,
                            labelExpr="'$' + datum.value", title="$",
                            grid=True, gridColor="#ebebeb", gridWidth=1,
                            domainColor="black", tickColor="black", tickSize=4,
                            labelFont=FONT, labelFontSize=11, labelColor="black",
                            labelPadding=4, labelOverlap=False, labelFlush=False,
                            titleFont=FONT, titleFontSize=11, titleFontWeight="normal",
                            titleColor="black", titleAngle=90, titlePadding=10))
color_enc = alt.Color("series:N", scale=color_scale,
                      legend=alt.Legend(title=None, orient="none", legendX=0, legendY=1100,
                                        direction="horizontal", columns=2,
                                        symbolType="square", symbolSize=64,
                                        symbolStrokeColor="black", symbolStrokeWidth=1,
                                        labelFont=FONT, labelFontSize=11, labelColor="black",
                                        labelOffset=4, columnPadding=26,
                                        padding=9, strokeColor="black", fillColor="white"))

outer = alt.Chart(one).mark_rect(fillOpacity=0, stroke="black", strokeWidth=1).encode(
    x=alt.value(-28.5), x2=alt.value(1703.5), y=alt.value(-31.5), y2=alt.value(1141.5))

title_mark = alt.Chart(one).mark_text(text=title_text, font=FONT, fontSize=12, color="black",
                                      align="center", baseline="middle").encode(
    x=alt.value(844), y=alt.value(-18))

wm1 = alt.Chart(one).mark_text(text="POKER", font="DejaVu Sans Condensed", fontWeight="bold",
                               fontSize=39, color="#ececec", align="left",
                               baseline="alphabetic").encode(x=alt.value(668), y=alt.value(65))
wm2 = alt.Chart(one).mark_text(text="TRACKER", font="DejaVu Sans Condensed", fontWeight="normal",
                               fontSize=39, color="#ececec", align="left",
                               baseline="alphabetic").encode(x=alt.value(807), y=alt.value(65))

zero_rule = alt.Chart(zero_df).mark_rule(color="black", strokeWidth=1).encode(y=y_enc)

start_sq = alt.Chart(start_df).mark_square(size=1, filled=True, opacity=1).encode(
    x=x_enc, y=y_enc, color=color_enc)

light_line = alt.Chart(light_df).mark_line(strokeWidth=1.2).encode(
    x=x_enc, y=y_enc, color=color_enc, order="order:Q")
dark_line = alt.Chart(dark_df).mark_line(strokeWidth=1.2).encode(
    x=x_enc, y=y_enc, color=color_enc, order="order:Q")

info_box = alt.Chart(one).mark_rect(fill="white", stroke="#8a8a8a", strokeWidth=1).encode(
    x=alt.value(1485.5), x2=alt.value(1622.5), y=alt.value(939.5), y2=alt.value(1047.5))
info_text = alt.Chart(one).mark_text(text="\n".join(info_lines), lineBreak="\n", lineHeight=20,
                                     font=FONT, fontSize=11, color="#a985b0", align="left",
                                     baseline="middle").encode(x=alt.value(1490), y=alt.value(952))

chart = alt.layer(
    outer, title_mark, wm1, wm2, zero_rule, start_sq, light_line, dark_line, info_box, info_text
).properties(
    width=W, height=H,
    autosize=alt.AutoSizeParams(type="none"),
    padding={"left": 29, "top": 32, "right": 71, "bottom": 83},
).configure_view(
    stroke="black", strokeWidth=1
).configure(background="white")

chart.save("out.html", embed_options={"renderer": "svg", "actions": False})
